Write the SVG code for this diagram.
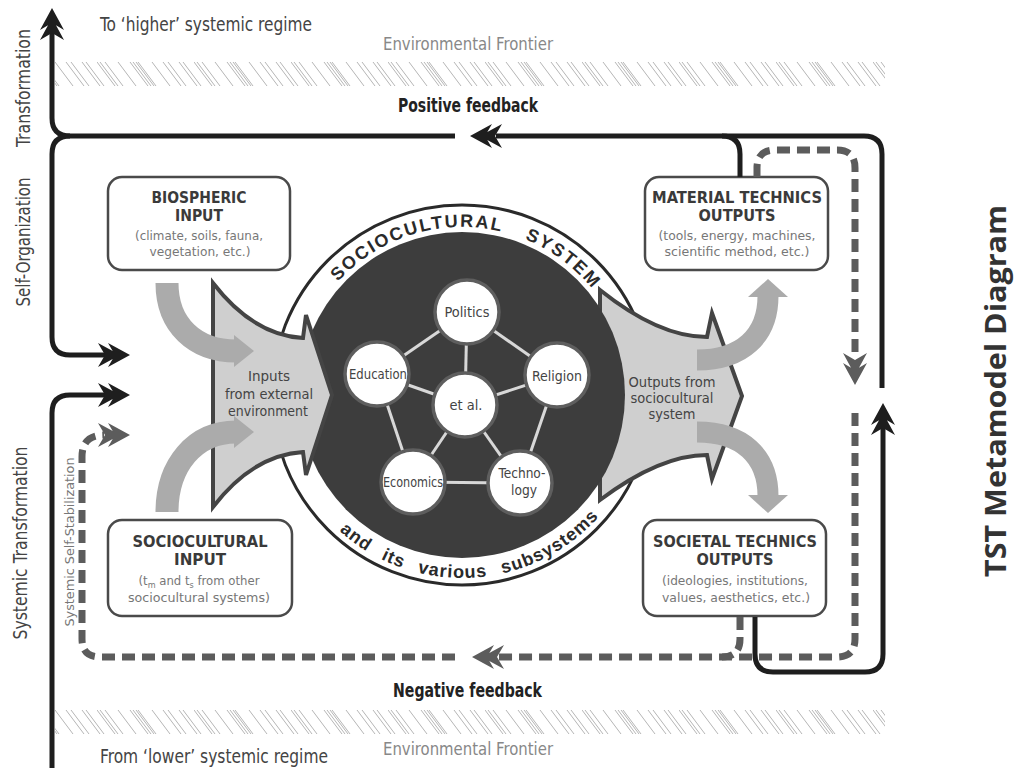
<svg xmlns="http://www.w3.org/2000/svg" width="1026" height="768" viewBox="0 0 1026 768">
<style>
.n{font-family:"Liberation Sans Narrow","DejaVu Sans Condensed","Liberation Sans",sans-serif}
.b{font-family:"Liberation Sans Narrow","DejaVu Sans Condensed","Liberation Sans",sans-serif;font-weight:bold}
.box{fill:#fff;stroke:#4a4a4a;stroke-width:2.5}
.bt{font-size:16px;fill:#3a3a3a;text-anchor:middle}
.bs{font-size:13px;fill:#777;text-anchor:middle}
.solid{fill:none;stroke:#1e1e1e;stroke-width:5}
.dash{fill:none;stroke:#5c5c5c;stroke-width:7;stroke-dasharray:13 7}
.garr{fill:none;stroke:#ababab}
.gh{fill:#ababab}
.circ{fill:#fff;stroke:#5e5e5e;stroke-width:3.5}
.ct{font-size:14px;fill:#444;text-anchor:middle}
.edge{stroke:#d8d8d8;stroke-width:3}
.rt{font-family:"Liberation Sans",Arial,sans-serif;font-weight:bold;fill:#2a2a2a}
.blk{fill:#1e1e1e}
.gry{fill:#5c5c5c}
</style>
<defs>
<path id="dbl" d="M0,0 L-22,12 L-17.3,4 L-32,12 L-25,0 L-32,-12 L-17.3,-4 L-22,-12 Z"/>
<pattern id="hatch" patternUnits="userSpaceOnUse" x="0" y="62" width="97" height="24">
<g stroke="#a8a8a8" stroke-width="1">
<path d="M0,0l18,24M3,0l18,24M8,0l18,24M21,0l18,24M33,0l18,24M36,0l18,24M39,0l18,24M41,0l18,24M55,0l18,24M66,0l18,24M71,0l18,24M82,0l18,24M86,0l18,24M-15,0l18,24M-11,0l18,24M-26,0l18,24M-31,0l18,24"/>
</g>
</pattern>
<path id="arcTop" d="M294,395 A168,168 0 0 1 630,395"/>
<path id="arcBot" d="M279,395 A183,183 0 0 0 645,395"/>
</defs>
<rect width="1026" height="768" fill="#fff"/>

<g id="frontier-top">
<rect x="55" y="62" width="830" height="24" fill="url(#hatch)" opacity="0.85"/>
<text class="n" x="383" y="50" font-size="17" fill="#888" textLength="170" lengthAdjust="spacingAndGlyphs">Environmental Frontier</text>
</g>
<g id="frontier-bottom">
<rect x="55" y="710" width="830" height="24" fill="url(#hatch)" opacity="0.85"/>
<text class="n" x="383" y="755" font-size="17" fill="#888" textLength="170" lengthAdjust="spacingAndGlyphs">Environmental Frontier</text>
</g>
<text class="n" x="100" y="31" font-size="19" fill="#444" textLength="212" lengthAdjust="spacingAndGlyphs">To ‘higher’ systemic regime</text>
<text class="n" x="100" y="763" font-size="19" fill="#444" textLength="228" lengthAdjust="spacingAndGlyphs">From ‘lower’ systemic regime</text>
<text class="b" x="398" y="112" font-size="19" fill="#222" textLength="140" lengthAdjust="spacingAndGlyphs">Positive feedback</text>
<text class="b" x="393" y="697" font-size="19" fill="#222" textLength="149" lengthAdjust="spacingAndGlyphs">Negative feedback</text>

<g id="sociocultural-system">
<circle cx="462" cy="395" r="190" fill="#fff" stroke="#2a2a2a" stroke-width="3"/>
<path id="outputs-shape" d="M600,290 C640,322 675,337 707,337 L712,313 L742,396 L712,479 L707,455 C675,455 640,470 600,500 Z" fill="#cfcfcf" stroke="#444" stroke-width="4"/>
<circle cx="462" cy="395" r="163" fill="#3d3d3d"/>
<path id="inputs-shape" d="M213,283 C240,318 270,336 303,338 L306,315 L332,395 L306,475 L303,452 C270,454 240,472 213,507 Z" fill="#cfcfcf" stroke="#444" stroke-width="4"/>
<text class="rt" font-size="18" letter-spacing="2"><textPath href="#arcTop" startOffset="124">SOCIOCULTURAL</textPath></text>
<text class="rt" font-size="18" letter-spacing="2"><textPath href="#arcTop" startOffset="328">SYSTEM</textPath></text>
<text class="rt" font-size="18" letter-spacing="1" word-spacing="9"><textPath href="#arcBot" startOffset="153">and its various subsystems</textPath></text>
<text class="n ct" x="269" y="381" fill="#555" textLength="42" lengthAdjust="spacingAndGlyphs">Inputs</text>
<text class="n ct" x="269" y="399" fill="#555" textLength="88" lengthAdjust="spacingAndGlyphs">from external</text>
<text class="n ct" x="268" y="416" fill="#555" textLength="80" lengthAdjust="spacingAndGlyphs">environment</text>
<text class="n ct" x="672" y="387" fill="#555" textLength="87" lengthAdjust="spacingAndGlyphs">Outputs from</text>
<text class="n ct" x="672" y="403" fill="#555" textLength="83" lengthAdjust="spacingAndGlyphs">sociocultural</text>
<text class="n ct" x="672" y="419" fill="#555" textLength="47" lengthAdjust="spacingAndGlyphs">system</text>
</g>

<g id="subsystem-links">
<line class="edge" x1="467" y1="312" x2="377" y2="374"/>
<line class="edge" x1="467" y1="312" x2="557" y2="375"/>
<line class="edge" x1="467" y1="312" x2="465" y2="405"/>
<line class="edge" x1="377" y1="374" x2="465" y2="405"/>
<line class="edge" x1="557" y1="375" x2="465" y2="405"/>
<line class="edge" x1="377" y1="374" x2="413" y2="482"/>
<line class="edge" x1="557" y1="375" x2="520" y2="483"/>
<line class="edge" x1="413" y1="482" x2="465" y2="405"/>
<line class="edge" x1="520" y1="483" x2="465" y2="405"/>
<line class="edge" x1="413" y1="482" x2="520" y2="483"/>
</g>
<g id="politics"><circle class="circ" cx="467" cy="312" r="32"/><text class="n ct" x="467" y="317" textLength="45" lengthAdjust="spacingAndGlyphs">Politics</text></g>
<g id="education"><circle class="circ" cx="377" cy="374" r="32"/><text class="n ct" x="378" y="379" textLength="58" lengthAdjust="spacingAndGlyphs">Education</text></g>
<g id="religion"><circle class="circ" cx="557" cy="375" r="32"/><text class="n ct" x="557" y="381" textLength="50" lengthAdjust="spacingAndGlyphs">Religion</text></g>
<g id="et-al"><circle class="circ" cx="465" cy="405" r="32"/><text class="n ct" x="466" y="410" textLength="33" lengthAdjust="spacingAndGlyphs">et  al.</text></g>
<g id="economics"><circle class="circ" cx="413" cy="482" r="32"/><text class="n ct" x="413" y="487" textLength="60" lengthAdjust="spacingAndGlyphs">Economics</text></g>
<g id="technology"><circle class="circ" cx="520" cy="483" r="32"/><text class="n ct" x="522" y="478" textLength="47" lengthAdjust="spacingAndGlyphs">Techno-</text><text class="n ct" x="524" y="495" textLength="26" lengthAdjust="spacingAndGlyphs">logy</text></g>

<g id="input-arrows">
<path class="garr" stroke-width="23" d="M167,283 C167,325 195,351 236,351"/>
<path class="gh" d="M254,351 L234,335 L234,367 Z"/>
<path class="garr" stroke-width="23" d="M167,512 C167,465 195,432 236,432"/>
<path class="gh" d="M254,432 L234,416 L234,448 Z"/>
</g>
<g id="output-arrows">
<path class="garr" stroke-width="21" d="M697,360 C742,360 768,336 768,296"/>
<path class="gh" d="M768,279 L748,297 L788,297 Z"/>
<path class="garr" stroke-width="21" d="M697,432 C742,432 768,456 768,496"/>
<path class="gh" d="M768,513 L748,495 L788,495 Z"/>
</g>

<g id="biospheric-input">
<rect class="box" x="108" y="177" width="182" height="93" rx="14"/>
<text class="b bt" x="199" y="203" textLength="95" lengthAdjust="spacingAndGlyphs">BIOSPHERIC</text>
<text class="b bt" x="199" y="221" textLength="48" lengthAdjust="spacingAndGlyphs">INPUT</text>
<text class="n bs" x="199" y="240" textLength="128" lengthAdjust="spacingAndGlyphs">(climate, soils, fauna,</text>
<text class="n bs" x="200" y="256" textLength="101" lengthAdjust="spacingAndGlyphs">vegetation, etc.)</text>
</g>
<g id="material-technics-outputs">
<rect class="box" x="645" y="177" width="183" height="93" rx="14"/>
<text class="b bt" x="737" y="203" textLength="170" lengthAdjust="spacingAndGlyphs">MATERIAL TECHNICS</text>
<text class="b bt" x="737" y="221" textLength="77" lengthAdjust="spacingAndGlyphs">OUTPUTS</text>
<text class="n bs" x="737" y="240" textLength="157" lengthAdjust="spacingAndGlyphs">(tools, energy, machines,</text>
<text class="n bs" x="737" y="256" textLength="145" lengthAdjust="spacingAndGlyphs">scientific method, etc.)</text>
</g>
<g id="sociocultural-input">
<rect class="box" x="108" y="520" width="184" height="96" rx="14"/>
<text class="b bt" x="200" y="547" textLength="135" lengthAdjust="spacingAndGlyphs">SOCIOCULTURAL</text>
<text class="b bt" x="200" y="565" textLength="52" lengthAdjust="spacingAndGlyphs">INPUT</text>
<text class="n bs" x="199" y="585">(t<tspan font-size="9" dy="3">m</tspan><tspan dy="-3"> and t</tspan><tspan font-size="9" dy="3">s</tspan><tspan dy="-3"> from other</tspan></text>
<text class="n bs" x="199" y="602" textLength="142" lengthAdjust="spacingAndGlyphs">sociocultural systems)</text>
</g>
<g id="societal-technics-outputs">
<rect class="box" x="643" y="520" width="183" height="96" rx="14"/>
<text class="b bt" x="735" y="547" textLength="164" lengthAdjust="spacingAndGlyphs">SOCIETAL TECHNICS</text>
<text class="b bt" x="735" y="565" textLength="77" lengthAdjust="spacingAndGlyphs">OUTPUTS</text>
<text class="n bs" x="735" y="585" textLength="146" lengthAdjust="spacingAndGlyphs">(ideologies, institutions,</text>
<text class="n bs" x="736" y="602" textLength="148" lengthAdjust="spacingAndGlyphs">values, aesthetics, etc.)</text>
</g>

<g id="connectors">
<path class="solid" d="M455,136 H70 Q52,136 52,118 V32"/>
<path class="solid" d="M70,136 Q52,136 52,154 V337 Q52,355 70,355 H108"/>
<path class="solid" d="M52,768 V413 Q52,395 70,395 H108"/>
<path class="solid" d="M496,136 H864 Q882,136 882,154 V388"/>
<path class="solid" d="M740,177 V154 Q740,136 722,136"/>
<path class="solid" d="M755,617 V654 Q755,672 773,672 H865 Q883,672 883,654 V427"/>
<path class="dash" d="M757,177 V168 Q757,150 775,150 H837 Q855,150 855,168 V358"/>
<path class="dash" d="M855,413 V639 Q855,657 837,657 H497"/>
<path class="dash" d="M455,657 H100 Q82,657 82,639 V457 Q82,435 104,435"/>
<path class="dash" d="M740,617 V639 Q740,657 722,657"/>
<use href="#dbl" class="blk" transform="translate(52,8) rotate(-90)"/>
<use href="#dbl" class="blk" transform="translate(130,355)"/>
<use href="#dbl" class="blk" transform="translate(130,395)"/>
<use href="#dbl" class="gry" transform="translate(130,435)"/>
<use href="#dbl" class="blk" transform="translate(470,136) rotate(180)"/>
<use href="#dbl" class="gry" transform="translate(472,657) rotate(180)"/>
<use href="#dbl" class="gry" transform="translate(855,385) rotate(90)"/>
<use href="#dbl" class="blk" transform="translate(883,403) rotate(-90)"/>
</g>

<g id="side-labels">
<text class="n" transform="translate(30,88) rotate(-90)" font-size="20" fill="#444" text-anchor="middle" textLength="118" lengthAdjust="spacingAndGlyphs">Transformation</text>
<text class="n" transform="translate(30,242) rotate(-90)" font-size="20" fill="#444" text-anchor="middle" textLength="129" lengthAdjust="spacingAndGlyphs">Self-Organization</text>
<text class="n" transform="translate(27,543) rotate(-90)" font-size="20" fill="#444" text-anchor="middle" textLength="193" lengthAdjust="spacingAndGlyphs">Systemic Transformation</text>
<text class="n" transform="translate(74,542) rotate(-90)" font-size="13" fill="#777" text-anchor="middle" textLength="169" lengthAdjust="spacingAndGlyphs">Systemic Self-Stabilization</text>
</g>
<text id="title" transform="translate(1006,391) rotate(-90)" font-family="'Open Sans',Lato,sans-serif" font-weight="bold" font-size="28" fill="#333" text-anchor="middle" textLength="372" lengthAdjust="spacingAndGlyphs">TST Metamodel Diagram</text>
</svg>
